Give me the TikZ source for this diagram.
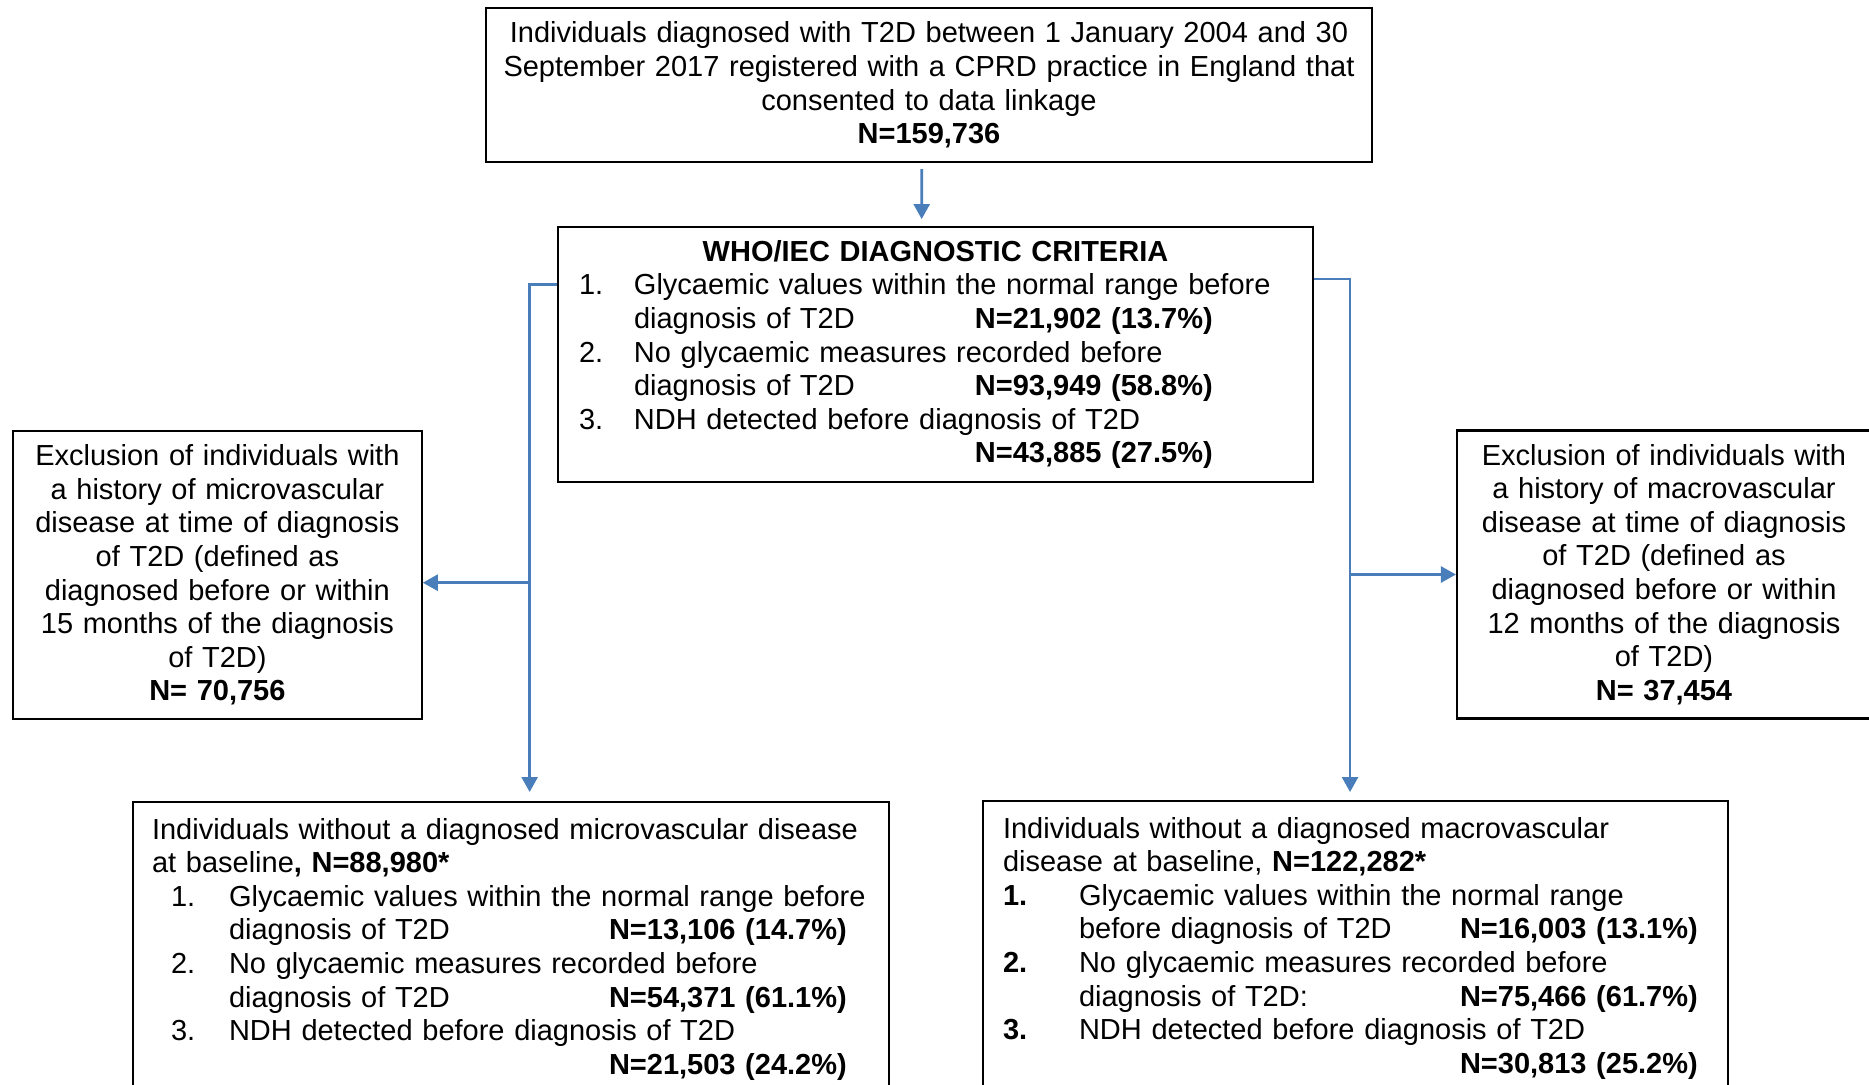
\documentclass[tikz,border=0pt]{standalone}
\usepackage{fontspec}
\setmainfont{Liberation Sans}
\usetikzlibrary{positioning,arrows.meta}

\definecolor{linkblue}{RGB}{74,126,187}
\newcommand{\boxfont}{\fontsize{8.25pt}{9.56pt}\selectfont\hyphenpenalty=10000\exhyphenpenalty=10000}
\newlength\indw
\newlength\numw
\newlength\textw
\newcommand{\itemrow}[2]{\hspace*{\indw}\makebox[\numw][l]{#1}#2}
\newcommand{\nrow}[2]{\hspace*{\indw}\hspace*{\numw}\makebox[\textw][l]{#1}\textbf{#2}}

\begin{document}
\begin{tikzpicture}[>={Triangle[length=0.15cm,width=0.16cm]}]
    \tikzstyle{box}     = [draw, rectangle, line width=0.6pt, font=\boxfont, inner ysep=0pt]
    \tikzstyle{topbox}  = [box, text width=8.7cm, inner xsep=0.08cm, minimum height=1.54cm, align=center]
    \tikzstyle{whobox}  = [box, text width=7.13cm, inner xsep=0.21cm, minimum height=2.55cm, align=left,
                           execute at begin node={\setlength\indw{0cm}\setlength\numw{0.55cm}\setlength\textw{3.41cm}}]
    \tikzstyle{exclbox} = [box, inner xsep=0.1cm, minimum height=2.88cm, align=center]
    \tikzstyle{basebox} = [box, inner ysep=0.16cm, align=left, anchor=north west]
    \tikzstyle{link}    = [draw=linkblue, line width=0.75pt, ->]

    \path[use as bounding box, clip] (0,0) rectangle (18.69,-10.85);

    \node [topbox] (cohort) at (9.29,-0.85) {Individuals diagnosed with T2D between 1 January 2004 and 30\\September 2017 registered with a CPRD practice in England that\\consented to data linkage\\\textbf{N=159,736}};
    \node [whobox, below=0.63cm of cohort, xshift=0.065cm] (who) {\makebox[\hsize][c]{\textbf{WHO/IEC DIAGNOSTIC CRITERIA}}\\
        \itemrow{1.}{Glycaemic values within the normal range before}\\
        \nrow{diagnosis of T2D}{N=21,902 (13.7\%)}\\
        \itemrow{2.}{No glycaemic measures recorded before}\\
        \nrow{diagnosis of T2D}{N=93,949 (58.8\%)}\\
        \itemrow{3.}{NDH detected before diagnosis of T2D}\\
        \nrow{}{N=43,885 (27.5\%)}};

    % exclusions
    \node [exclbox, text width=3.887cm] (microexcl) at (2.174,-5.75) {Exclusion of individuals with\\a history of microvascular\\disease at time of diagnosis\\of T2D (defined as\\diagnosed before or within\\15 months of the diagnosis\\of T2D)\\\textbf{N= 70,756}};
    \node [exclbox, text width=3.94cm] (macroexcl) at (16.64,-5.745) {Exclusion of individuals with\\a history of macrovascular\\disease at time of diagnosis\\of T2D (defined as\\diagnosed before or within\\12 months of the diagnosis\\of T2D)\\\textbf{N= 37,454}};

    % baseline cohorts
    \node [basebox, text width=7.3cm, inner xsep=0.13cm,
           execute at begin node={\setlength\indw{0.19cm}\setlength\numw{0.58cm}\setlength\textw{3.80cm}}]
           (microbase) at (1.32,-8.01) {\hspace*{0.06cm}Individuals without a diagnosed microvascular disease\\\hspace*{0.06cm}at baseline\textbf{, N=88,980*}\\
        \hspace*{0.06cm}\itemrow{1.}{Glycaemic values within the normal range before}\\
        \hspace*{0.06cm}\nrow{diagnosis of T2D}{N=13,106 (14.7\%)}\\
        \hspace*{0.06cm}\itemrow{2.}{No glycaemic measures recorded before}\\
        \hspace*{0.06cm}\nrow{diagnosis of T2D}{N=54,371 (61.1\%)}\\
        \hspace*{0.06cm}\itemrow{3.}{NDH detected before diagnosis of T2D}\\
        \hspace*{0.06cm}\nrow{}{N=21,503 (24.2\%)}};
    \node [basebox, text width=7.05cm, inner xsep=0.20cm,
           execute at begin node={\setlength\indw{0cm}\setlength\numw{0.76cm}\setlength\textw{3.81cm}}]
           (macrobase) at (9.82,-8.00) {Individuals without a diagnosed macrovascular\\disease at baseline, \textbf{N=122,282*}\\
        \itemrow{\textbf{1.}}{Glycaemic values within the normal range}\\
        \nrow{before diagnosis of T2D}{N=16,003 (13.1\%)}\\
        \itemrow{\textbf{2.}}{No glycaemic measures recorded before}\\
        \nrow{diagnosis of T2D:}{N=75,466 (61.7\%)}\\
        \itemrow{\textbf{3.}}{NDH detected before diagnosis of T2D}\\
        \nrow{}{N=30,813 (25.2\%)}};

    \coordinate (microbend) at ([xshift=-0.273cm, yshift=0.70cm]who.west);
    \coordinate (macrobend) at ([xshift=0.36cm, yshift=0.755cm]who.east);
    \coordinate (microsplit) at ([yshift=-0.077cm]microexcl.east);

    \draw [link] ([shift={(-0.073,-0.06)}]cohort.south) -- ([shift={(-0.138,0.07)}]who.north);
    \draw [link] ([yshift=0.70cm]who.west) -- (microbend) -- ([yshift=0.09cm]microbend |- microbase.north);
    \draw [link] (microbend |- microsplit) -- (microsplit);
    \draw [link] ([yshift=0.755cm]who.east) -- (macrobend) -- ([yshift=0.08cm]macrobend |- macrobase.north);
    \draw [link] (macrobend |- macroexcl.west) -- (macroexcl.west);
\end{tikzpicture}
\end{document}
